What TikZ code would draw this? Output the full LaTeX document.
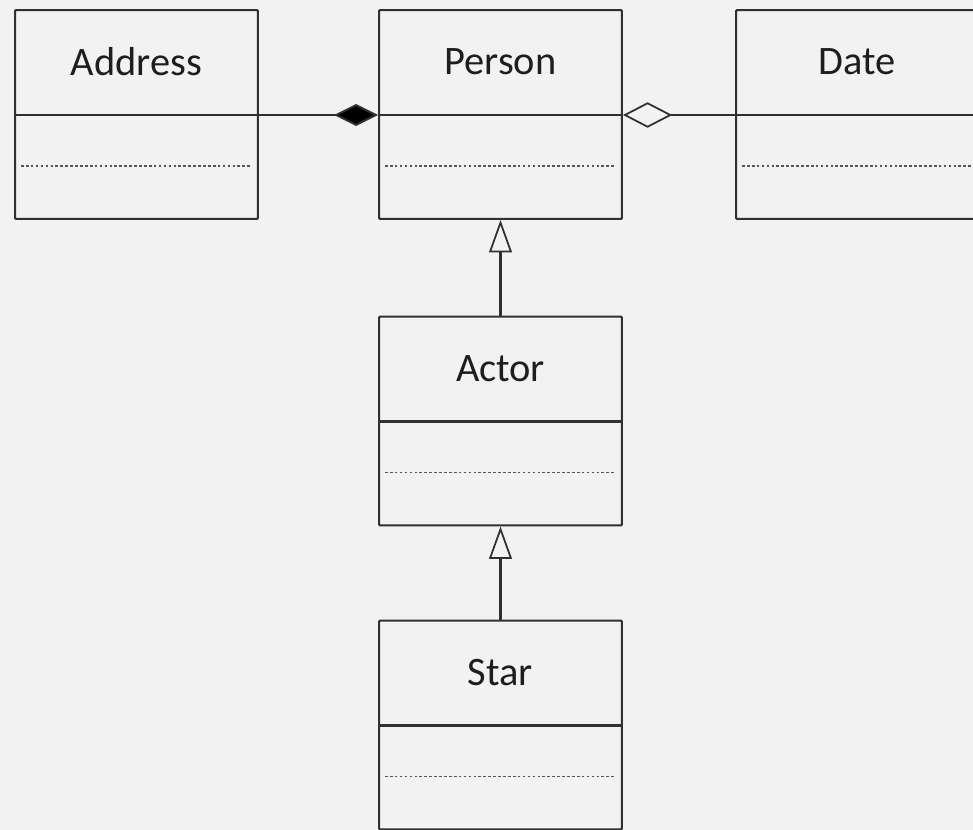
\documentclass[tikz,border=0pt]{standalone}
\usepackage{fontspec}
\setmainfont{Carlito}
\usetikzlibrary{arrows.meta,calc}
\definecolor{bg}{HTML}{F2F2F2}
\definecolor{ink}{HTML}{303030}
\definecolor{txt}{HTML}{1E1E1E}
\definecolor{dots}{HTML}{555555}
\tikzset{
  classbox/.style={draw=ink, line width=1.15pt, rectangle, rounded corners=0.6pt,
    minimum width=4.86cm, minimum height=4.18cm, inner sep=0pt, fill=bg},
  classname/.style={font=\fontsize{23}{26}\selectfont, text=txt, inner sep=0pt, anchor=center},
  sepline/.style={draw=ink, line width=1.5pt},
  dotline/.style={draw=dots, line width=1pt, dash pattern=on 1.5pt off 1.3pt},
  conn/.style={draw=ink, line width=1.1pt},
  composition/.style={conn, -{Diamond[length=25pt, width=12.5pt, fill=black]}},
  aggregation/.style={conn, -{Diamond[open, length=28pt, width=14.5pt, line width=1pt]}},
  generalization/.style={conn, line width=1.45pt, -{Triangle[open, length=18.5pt, width=13pt, line width=1pt]}}
}
\newcommand{\umlclass}[3]{%
  \node[classbox] (#1) at #2 {};
  \node[classname] (#1name) at ($(#1.north)+(0,53)$) {#3};
  \coordinate (#1sepL) at ($(#1.north west)+(0,106)$);
  \coordinate (#1sepR) at ($(#1.north east)+(0,106)$);
  \draw[sepline] (#1sepL) -- (#1sepR);
  \draw[dotline] ($(#1.north west)+(7,157)$) -- ($(#1.north east)+(-8,157)$);
}
\begin{document}
\begin{tikzpicture}[x=0.02cm, y=-0.02cm]
  \fill[bg] (0,0) rectangle (973,830);
  \useasboundingbox (0,0) rectangle (973,830);
  \umlclass{address}{(136.5,114.5)}{Address}
  \umlclass{person}{(500.5,114.5)}{Person}
  \umlclass{date}{(857.5,114.5)}{Date}
  \umlclass{actor}{(500.5,421)}{Actor}
  \umlclass{star}{(500.5,725)}{Star}
  \draw[composition] (addresssepR) -- (personsepL);
  \draw[aggregation] (datesepL) -- (personsepR);
  \draw[generalization] (actor.north) -- (person.south);
  \draw[generalization] (star.north) -- (actor.south);
\end{tikzpicture}
\end{document}
